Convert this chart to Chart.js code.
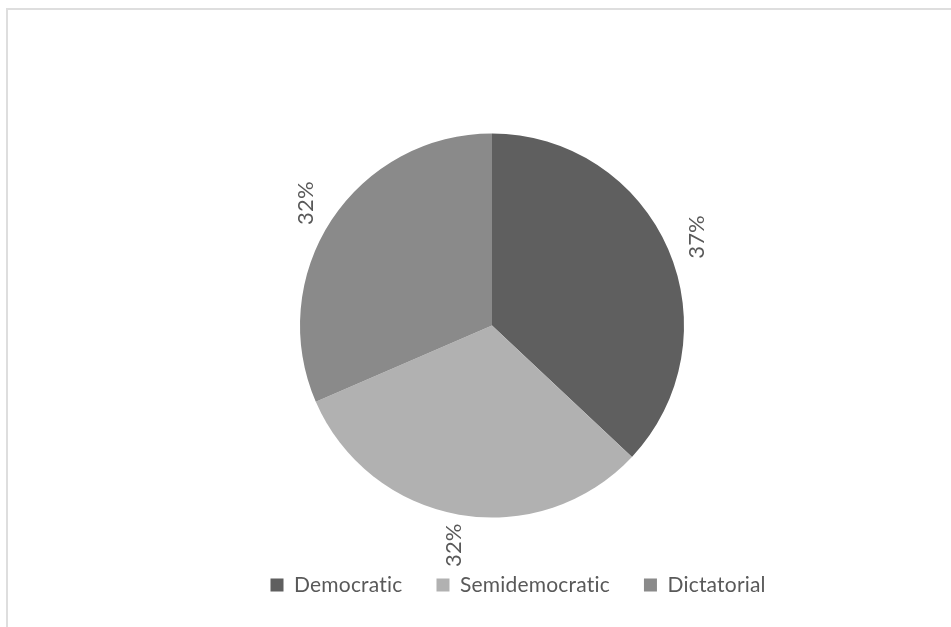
<!DOCTYPE html>
<html>
<head>
<meta charset="utf-8">
<script src="https://cdn.jsdelivr.net/npm/chart.js@4/dist/chart.umd.min.js"></script>
<style>
  html, body { margin: 0; padding: 0; background: #ffffff; overflow: hidden; }
  #frame { position: absolute; left: 6px; top: 8px; width: 1200px; height: 900px; border: 2px solid #dedede; box-sizing: border-box; }
  #wrap { position: absolute; left: 0; top: 0; width: 951px; height: 627px; }
</style>
</head>
<body>
<div id="frame"></div>
<div id="wrap"><canvas id="c" width="951" height="627"></canvas></div>
<script>
const categories = ["Democratic", "Semidemocratic", "Dictatorial"];
const shares = [37, 31.5, 31.5];
const sliceColors = ["#5f5f5f", "#b1b1b1", "#8a8a8a"];

const noLigatures = {
  id: 'noLigatures',
  beforeDraw(chart) {
    const ctx = chart.ctx;
    if ('letterSpacing' in ctx) ctx.letterSpacing = '0.2px';
    if ('textRendering' in ctx) ctx.textRendering = 'optimizeSpeed';
  },
  afterLayout(chart) {
    const ctx = chart.ctx;
    if ('letterSpacing' in ctx) ctx.letterSpacing = '0.2px';
    if ('textRendering' in ctx) ctx.textRendering = 'optimizeSpeed';
  }
};

const labelPlugin = {
  id: 'rotLabels',
  afterDatasetsDraw(chart) {
    const ctx = chart.ctx;
    const meta = chart.getDatasetMeta(0);
    ctx.save();
    ctx.fillStyle = '#595959';
    ctx.font = '22px Lato, "Open Sans", sans-serif';
    ctx.textAlign = 'center';
    ctx.textBaseline = 'middle';
    meta.data.forEach((arc, i) => {
      const mid = (arc.startAngle + arc.endAngle) / 2;
      const rr = arc.outerRadius + 31;
      const px = arc.x + Math.cos(mid) * rr;
      const py = arc.y + Math.sin(mid) * rr;
      ctx.save();
      ctx.translate(px, py);
      ctx.rotate(-Math.PI / 2);
      ctx.fillText(Math.round(shares[i]) + '%', 0, 0);
      ctx.restore();
    });
    ctx.restore();
  }
};

const legendShift = {
  id: 'legendShift',
  afterLayout(chart) {
    const lg = chart.legend;
    if (lg) { lg.left += 23; lg.right += 23; }
  }
};

new Chart(document.getElementById('c'), {
  type: 'pie',
  data: {
    labels: categories,
    datasets: [{
      data: shares,
      backgroundColor: sliceColors,
      borderWidth: 0,
      radius: 192
    }]
  },
  options: {
    responsive: false,
    animation: false,
    layout: { padding: { top: 110.5, bottom: 21.5, left: 40, right: 7 } },
    plugins: {
      legend: {
        position: 'bottom',
        labels: {
          boxWidth: 13,
          boxHeight: 13,
          padding: 34,
          color: '#595959',
          font: { family: 'Lato, "Open Sans", sans-serif', size: 21 }
        }
      },
      tooltip: { enabled: false }
    }
  },
  plugins: [noLigatures, labelPlugin, legendShift]
});
</script>
</body>
</html>
